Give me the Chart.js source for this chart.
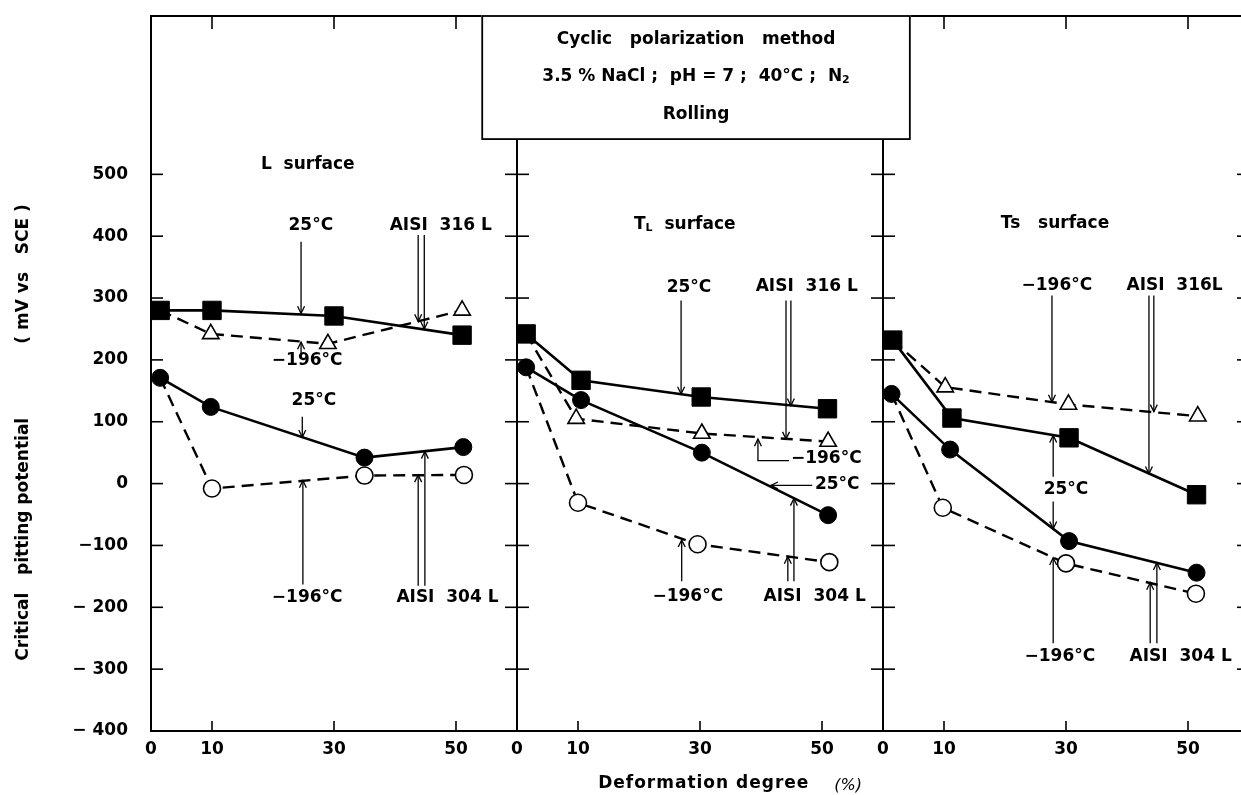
<!DOCTYPE html>
<html><head><meta charset="utf-8">
<script src="https://cdn.jsdelivr.net/npm/chart.js@4.4.1/dist/chart.umd.min.js"></script>
<style>
html,body{margin:0;padding:0;overflow:hidden;background:#fff;width:1241px;height:795px}
#wrap{position:absolute;left:0;top:0;width:1270px;height:795px}
</style></head>
<body><div id="wrap"><canvas id="c" width="1270" height="795"></canvas></div>
<script>
// ---- tick values / labels ----
const xTickValues = [0, 10, 30, 50];
const yTickValues = [-400, -300, -200, -100, 0, 100, 200, 300, 400, 500];
const yTickLabels = ['− 400', '− 300', '− 200', '−100', '0', '100', '200', '300', '400', '500'];

// ---- L surface ----
const L_316_25_x = [1.5, 10, 30, 51];
const L_316_25_y = [280, 280, 271, 240];
const L_316_m196_x = [1.5, 9.8, 29, 51];
const L_316_m196_y = [280, 242, 226, 280];
const L_304_25_x = [1.5, 9.8, 35, 51.2];
const L_304_25_y = [171, 124, 42, 59];
const L_304_m196_x = [1.5, 10, 35, 51.3];
const L_304_m196_y = [171, -8, 13, 14];
// ---- TL surface ----
const TL_316_25_x = [1.5, 10.5, 30.2, 50.9];
const TL_316_25_y = [242, 167, 140, 121];
const TL_316_m196_x = [1.5, 9.7, 30.3, 51];
const TL_316_m196_y = [242, 105, 81, 68];
const TL_304_25_x = [1.5, 10.5, 30.3, 51];
const TL_304_25_y = [188, 135, 50, -51];
const TL_304_m196_x = [1.5, 10, 29.6, 51.2];
const TL_304_m196_y = [188, -31, -98, -127];
// ---- Ts surface ----
const Ts_316_25_x = [1.6, 11.3, 30.5, 51.4];
const Ts_316_25_y = [232, 106, 74, -18];
const Ts_316_m196_x = [1.6, 10.2, 30.4, 51.6];
const Ts_316_m196_y = [232, 156, 128, 109];
const Ts_304_25_x = [1.4, 11, 30.5, 51.4];
const Ts_304_25_y = [145, 55, -93, -144];
const Ts_304_m196_x = [1.4, 9.8, 30, 51.3];
const Ts_304_m196_y = [145, -39, -129, -178];

// ---- annotation texts: [panel, text, x, y] ----
const annTexts = [
  [0, '25°C', 26.2, 417], [0, 'AISI  316 L', 47.5, 417], [0, '−196°C', 25.6, 199],
  [0, '25°C', 26.7, 134], [0, '−196°C', 25.6, -184], [0, 'AISI  304 L', 48.6, -184],
  [1, '25°C', 28.2, 317], [1, 'AISI  316 L', 47.5, 318], [1, '−196°C', 50.7, 40],
  [1, '25°C', 52.5, -2], [1, '−196°C', 28, -183], [1, 'AISI  304 L', 48.8, -183],
  [2, '−196°C', 28.5, 320], [2, 'AISI  316L', 47.8, 320], [2, '25°C', 30, -9],
  [2, '−196°C', 29, -279], [2, 'AISI  304 L', 48.8, -279]
];
// ---- annotation arrows: [panel, polyline points], head at last point ----
const annArrows = [
  [0, [[24.6, 391], [24.6, 275]]], [0, [[43.8, 402], [43.8, 262]]], [0, [[44.8, 402], [44.8, 250]]],
  [0, [[24.6, 210], [24.6, 229]]], [0, [[24.8, 108], [24.8, 75]]], [0, [[24.9, -163], [24.9, 5]]],
  [0, [[43.8, -165], [43.8, 14]]], [0, [[44.9, -165], [44.9, 52]]],
  [1, [[26.9, 296], [26.9, 145]]], [1, [[44.1, 296], [44.1, 72]]], [1, [[44.9, 296], [44.9, 126]]],
  [1, [[44.6, 37], [39.5, 37], [39.5, 72]]], [1, [[48.4, -3], [41.6, -3]]],
  [1, [[27, -158], [27, -91]]], [1, [[44.4, -158], [44.4, -118]]], [1, [[45.4, -158], [45.4, -24]]],
  [2, [[27.7, 304], [27.7, 132]]], [2, [[43.6, 304], [43.6, 16]]], [2, [[44.4, 304], [44.4, 116]]],
  [2, [[27.9, 11], [27.9, 78]]], [2, [[27.9, -29], [27.9, -73]]], [2, [[27.9, -258], [27.9, -120]]],
  [2, [[43.8, -258], [43.8, -160]]], [2, [[44.9, -258], [44.9, -128]]]
];

const FONT = 'bold 17px "DejaVu Sans"';
const SMALL = 'bold 11px "DejaVu Sans"';

function pts(xs, ys) { return xs.map((x, i) => ({x: x, y: ys[i]})); }
function mk(xs, ys, axis, kind) {
  const base = {data: pts(xs, ys), xAxisID: axis, yAxisID: 'y', showLine: true, tension: 0,
    borderColor: '#000', pointBorderColor: '#000', clip: false};
  if (kind === 'sq') return Object.assign(base, {borderWidth: 2.6, pointStyle: 'rect', pointRadius: 13,
    pointBackgroundColor: '#000', pointBorderWidth: 1});
  if (kind === 'dot') return Object.assign(base, {borderWidth: 2.6, pointStyle: 'circle', pointRadius: 8.5,
    pointBackgroundColor: '#000', pointBorderWidth: 1});
  if (kind === 'tri') return Object.assign(base, {borderWidth: 2.4, borderDash: [12, 7], pointStyle: 'triangle',
    pointRadius: [0, 9.5, 9.5, 9.5], pointBackgroundColor: '#fff', pointBorderWidth: 1.6});
  return Object.assign(base, {borderWidth: 2.4, borderDash: [12, 7], pointStyle: 'circle',
    pointRadius: [0, 8.5, 8.5, 8.5], pointBackgroundColor: '#fff', pointBorderWidth: 1.6});
}

const datasets = [
  mk(L_316_25_x, L_316_25_y, 'x1', 'sq'), mk(L_304_25_x, L_304_25_y, 'x1', 'dot'),
  mk(TL_316_25_x, TL_316_25_y, 'x2', 'sq'), mk(TL_304_25_x, TL_304_25_y, 'x2', 'dot'),
  mk(Ts_316_25_x, Ts_316_25_y, 'x3', 'sq'), mk(Ts_304_25_x, Ts_304_25_y, 'x3', 'dot'),
  mk(L_316_m196_x, L_316_m196_y, 'x1', 'tri'), mk(L_304_m196_x, L_304_m196_y, 'x1', 'ring'),
  mk(TL_316_m196_x, TL_316_m196_y, 'x2', 'tri'), mk(TL_304_m196_x, TL_304_m196_y, 'x2', 'ring'),
  mk(Ts_316_m196_x, Ts_316_m196_y, 'x3', 'tri'), mk(Ts_304_m196_x, Ts_304_m196_y, 'x3', 'ring')
];

function xAxis() {
  return {type: 'linear', position: 'bottom', stack: 'panels', stackWeight: 1, min: 0, max: 60,
    grid: {display: false, drawTicks: false}, border: {display: false},
    ticks: {font: {family: 'DejaVu Sans', size: 17, weight: 'bold'}, color: '#000', padding: 8,
      autoSkip: false, maxRotation: 0, callback: v => String(v)},
    afterBuildTicks: s => { s.ticks = xTickValues.map(v => ({value: v})); },
    afterFit: s => { s.height = 64; s.paddingLeft = 0; s.paddingRight = 0; s.paddingTop = 0; s.paddingBottom = 0; }};
}

function line(ctx, a, b, c, d) { ctx.beginPath(); ctx.moveTo(a, b); ctx.lineTo(c, d); ctx.stroke(); }
function segText(ctx, segs, cx, cy) {
  let w = 0;
  segs.forEach(s => { ctx.font = s[1] ? SMALL : FONT; w += ctx.measureText(s[0]).width; });
  let x = cx - w / 2;
  ctx.textAlign = 'left'; ctx.textBaseline = 'middle';
  segs.forEach(s => {
    ctx.font = s[1] ? SMALL : FONT;
    ctx.fillText(s[0], x, s[1] ? cy + 3 : cy);
    x += ctx.measureText(s[0]).width;
  });
}

const deco = {
  id: 'deco',
  afterDatasetsDraw(chart) {
    const ctx = chart.ctx, Y = chart.scales.y;
    const X = ['x1', 'x2', 'x3'].map(k => chart.scales[k]);
    const top = chart.chartArea.top, bot = chart.chartArea.bottom;
    ctx.save();
    ctx.strokeStyle = '#000'; ctx.fillStyle = '#000';
    // frames + inward ticks
    ctx.lineWidth = 2;
    X.forEach(s => {
      ctx.strokeRect(s.left, top, s.right - s.left, bot - top);
      ctx.lineWidth = 1.6;
      yTickValues.forEach(v => {
        const py = Y.getPixelForValue(v);
        line(ctx, s.left, py, s.left + 12, py);
        line(ctx, s.right - 12, py, s.right, py);
      });
      xTickValues.slice(1).forEach(v => {
        const px = s.getPixelForValue(v);
        line(ctx, px, bot, px, bot - 10);
        line(ctx, px, top, px, top + 13);
      });
      ctx.lineWidth = 2;
    });
    // arrows
    ctx.lineWidth = 1.3;
    annArrows.forEach(a => {
      const s = X[a[0]];
      const p = a[1].map(q => [s.getPixelForValue(q[0]), Y.getPixelForValue(q[1])]);
      ctx.beginPath(); ctx.moveTo(p[0][0], p[0][1]);
      p.slice(1).forEach(q => ctx.lineTo(q[0], q[1]));
      ctx.stroke();
      const e = p[p.length - 1], f = p[p.length - 2];
      const ang = Math.atan2(e[1] - f[1], e[0] - f[0]);
      const L = 8, h = 0.45;
      ctx.beginPath();
      ctx.moveTo(e[0] - L * Math.cos(ang - h), e[1] - L * Math.sin(ang - h));
      ctx.lineTo(e[0], e[1]);
      ctx.lineTo(e[0] - L * Math.cos(ang + h), e[1] - L * Math.sin(ang + h));
      ctx.stroke();
    });
    // annotation texts
    ctx.font = FONT; ctx.textAlign = 'center'; ctx.textBaseline = 'middle';
    annTexts.forEach(t => {
      ctx.fillText(t[1], X[t[0]].getPixelForValue(t[2]), Y.getPixelForValue(t[3]));
    });
    // panel titles
    segText(ctx, [['L  surface']], X[0].getPixelForValue(25.7), Y.getPixelForValue(515));
    segText(ctx, [['T'], ['L', true], ['  surface']], X[1].getPixelForValue(27.5), Y.getPixelForValue(418));
    segText(ctx, [['Ts   surface']], X[2].getPixelForValue(28.2), Y.getPixelForValue(420));
    // title box
    const bl = X[0].getPixelForValue(54.3), br = X[2].getPixelForValue(4.4), bb = Y.getPixelForValue(557);
    ctx.fillStyle = '#fff';
    ctx.fillRect(bl - 1, top - 2, br - bl + 2, bb - top + 2);
    ctx.strokeStyle = '#000'; ctx.lineWidth = 1.8;
    ctx.strokeRect(bl, top, br - bl, bb - top);
    ctx.fillStyle = '#000';
    const bc = (bl + br) / 2;
    segText(ctx, [['Cyclic   polarization   method']], bc, top + 24);
    segText(ctx, [['3.5 % NaCl ;  pH = 7 ;  40°C ;  N'], ['2', true]], bc, top + 61);
    segText(ctx, [['Rolling']], bc, top + 99);
    // y title
    ctx.font = FONT; ctx.textAlign = 'center'; ctx.textBaseline = 'middle';
    [['( mV vs   SCE )', 339], ['Critical   pitting potential', -90]].forEach(t => {
      ctx.save();
      ctx.translate(24, Y.getPixelForValue(t[1]));
      ctx.rotate(-Math.PI / 2);
      ctx.fillText(t[0], 0, 0);
      ctx.restore();
    });
    // x title
    ctx.textAlign = 'left';
    ctx.font = 'bold 17px "DejaVu Sans"';
    if ('letterSpacing' in ctx) ctx.letterSpacing = '1px';
    ctx.fillText('Deformation degree', X[1].getPixelForValue(13.3), bot + 53);
    if ('letterSpacing' in ctx) ctx.letterSpacing = '0px';
    ctx.font = 'italic 16px "DejaVu Sans"';
    ctx.fillText('(%)', X[1].getPixelForValue(52), bot + 55);
    ctx.restore();
  }
};

new Chart(document.getElementById('c'), {
  type: 'line',
  data: {datasets: datasets},
  options: {
    responsive: false, animation: false,
    layout: {padding: {top: 16, right: 21, left: 0, bottom: 0}},
    plugins: {legend: {display: false}, tooltip: {enabled: false}},
    scales: {
      x1: xAxis(), x2: xAxis(), x3: xAxis(),
      y: {type: 'linear', position: 'left', min: -400, max: 756,
        grid: {display: false, drawTicks: false}, border: {display: false},
        ticks: {font: {family: 'DejaVu Sans', size: 17, weight: 'bold'}, color: '#000', padding: 23,
          autoSkip: false, callback: v => yTickLabels[yTickValues.indexOf(v)]},
        afterBuildTicks: s => { s.ticks = yTickValues.map(v => ({value: v})); },
        afterFit: s => { s.width = 151; s.paddingTop = 0; s.paddingBottom = 0; s.paddingLeft = 0; s.paddingRight = 0; }}
    }
  },
  plugins: [deco]
});
</script>
</body></html>
